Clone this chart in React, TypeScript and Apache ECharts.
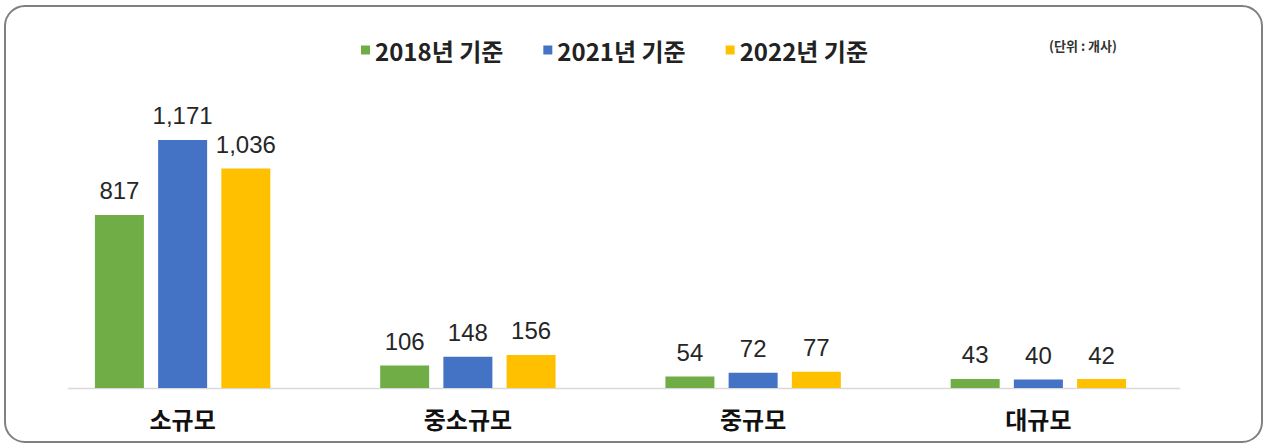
import React, { useEffect, useRef } from "react";
import * as echarts from "echarts";

const categories = ["소규모", "중소규모", "중규모", "대규모"];
const seriesNames = ["2018년 기준", "2021년 기준", "2022년 기준"];
const values2018 = [817, 106, 54, 43];
const values2021 = [1171, 148, 72, 40];
const values2022 = [1036, 156, 77, 42];
const colors = ["#70ad47", "#4472c4", "#ffc000"];
const unitText = "(단위 : 개사)";

const FONT = "'Noto Sans CJK KR', 'Noto Sans', sans-serif";
const NUM_FONT = "'Liberation Sans', Arial, sans-serif";

export default function App() {
  const ref = useRef<HTMLDivElement>(null);
  useEffect(() => {
    document.body.style.margin = "0";
    const chart = echarts.init(ref.current!, null, { renderer: "svg" });
    const data = [values2018, values2021, values2022];
    chart.setOption({
      animation: false,
      backgroundColor: "#ffffff",
      textStyle: { fontFamily: FONT },
      legend: {
        top: 33,
        left: 356,
        itemWidth: 9,
        itemHeight: 9,
        itemGap: 40,
        icon: "rect",
        data: seriesNames,
        textStyle: { fontSize: 24, fontWeight: "bold", color: "#222", fontFamily: FONT },
      },
      grid: { left: 40, width: 1141, top: 91.5, height: 296.5 },
      xAxis: {
        type: "category",
        data: categories,
        axisLine: { show: false },
        axisTick: { show: false },
        axisLabel: { fontSize: 24, fontWeight: "bold", color: "#111", margin: 18, fontFamily: FONT },
      },
      yAxis: {
        type: "value",
        min: 0,
        max: 1400,
        show: false,
        splitLine: { show: false },
      },
      graphic: [
        {
          type: "rect",
          shape: { x: 5, y: 6, width: 1257, height: 436, r: 20 },
          style: { fill: "none", stroke: "#808080", lineWidth: 2 },
          silent: true,
        },
        {
          type: "line",
          shape: { x1: 68, y1: 388.5, x2: 1180, y2: 388.5 },
          style: { stroke: "#d9d9d9", lineWidth: 1.5 },
          silent: true,
        },
        {
          type: "text",
          x: 1083,
          y: 45,
          style: {
            text: unitText,
            fontSize: 13,
            fontWeight: "bold",
            fill: "#333",
            fontFamily: FONT,
            align: "center",
            verticalAlign: "middle",
          },
        },
      ],
      series: seriesNames.map((name, i) => ({
        name,
        type: "bar",
        data: data[i],
        barWidth: 49,
        barGap: "29%",
        itemStyle: { color: colors[i] },
        label: {
          show: true,
          position: "top",
          distance: 12,
          fontSize: 24,
          color: "#262626",
          fontFamily: NUM_FONT,
          formatter: (p: any) => p.value.toLocaleString("en-US"),
        },
      })),
      color: colors,
    });
    return () => chart.dispose();
  }, []);
  return <div ref={ref} style={{ width: 1266, height: 446 }} />;
}
